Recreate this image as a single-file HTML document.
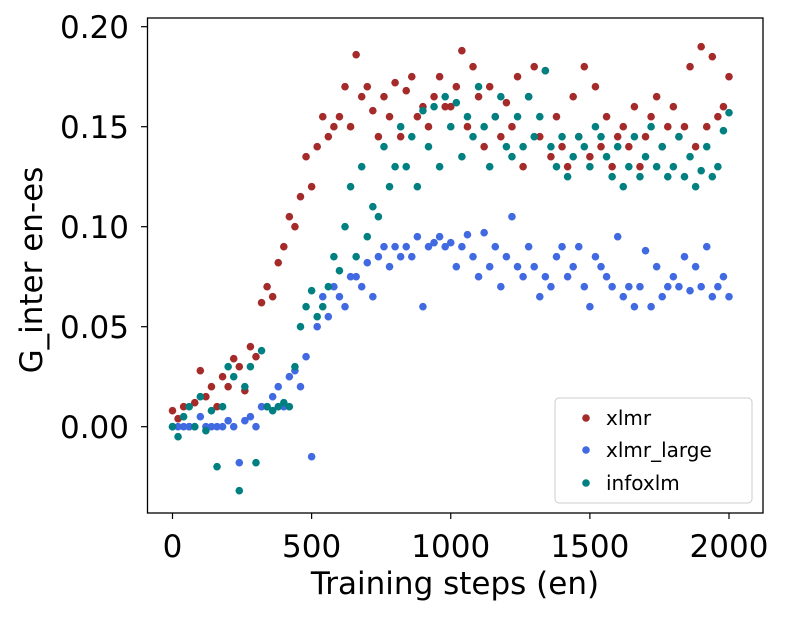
<!DOCTYPE html>
<html><head><meta charset="utf-8"><style>
body{margin:0;background:#fff}
svg{display:block;font-family:"DejaVu Sans","Liberation Sans",sans-serif}
</style></head><body>
<svg id="chart" width="788" height="618" xmlns="http://www.w3.org/2000/svg">
<rect x="0" y="0" width="788" height="618" fill="#fff"/>
<g id="points"></g>
<rect x="147.5" y="18" width="615.5" height="495" fill="none" stroke="#000" stroke-width="1.3"/>
<g id="axes"></g>
<text x="455" y="594" font-size="31" text-anchor="middle">Training steps (en)</text>
<text transform="translate(42,270) rotate(-90)" font-size="31" text-anchor="middle">G_inter en-es</text>
<g>
<rect x="555" y="398" width="197" height="105" rx="4" fill="#fff" fill-opacity="0.8" stroke="#ccc"/>
<circle cx="586" cy="418" r="3.8" fill="#a52a2a"/>
<text x="606" y="425" font-size="20">xlmr</text>
<circle cx="586" cy="450" r="3.8" fill="#4169e1"/>
<text x="606" y="457" font-size="20">xlmr_large</text>
<circle cx="586" cy="483" r="3.8" fill="#008080"/>
<text x="606" y="490" font-size="20">infoxlm</text>
</g>
</svg>
<script>
const xTicks=[0,500,1000,1500,2000];
const yTicks=[0.00,0.05,0.10,0.15,0.20];
const yTickLabels=["0.00","0.05","0.10","0.15","0.20"];
const stepStart=0, stepSize=20;
const xlmr=[0.008,0.004,0.01,0.0,0.012,0.028,0.015,0.02,0.01,0.025,0.02,
0.034,0.03,0.018,0.04,0.035,0.062,0.07,0.065,0.082,0.09,
0.105,0.1,0.115,0.135,0.12,0.14,0.155,0.145,0.15,0.155,
0.17,0.15,0.186,0.165,0.17,0.158,0.145,0.165,0.155,0.172,
0.145,0.168,0.175,0.155,0.16,0.15,0.165,0.175,0.16,0.16,
0.17,0.188,0.15,0.18,0.165,0.14,0.17,0.155,0.145,0.162,
0.15,0.175,0.13,0.165,0.18,0.145,0.178,0.135,0.155,0.14,
0.13,0.165,0.145,0.18,0.135,0.17,0.14,0.155,0.13,0.145,
0.15,0.14,0.16,0.13,0.145,0.155,0.165,0.14,0.15,0.16,
0.145,0.15,0.18,0.14,0.19,0.15,0.185,0.155,0.16,0.175];
const xlmrLarge=[0,0,0,0,0,0.005,0,0,0,0,0.003,
0,-0.018,0.003,0.005,0,0.01,0.01,0.015,0.02,0.01,
0.025,0.028,0.02,0.035,-0.015,0.05,0.065,0.055,0.07,0.065,
0.06,0.075,0.075,0.07,0.082,0.065,0.085,0.09,0.08,0.09,
0.085,0.09,0.085,0.095,0.06,0.09,0.092,0.095,0.09,0.092,
0.08,0.09,0.096,0.085,0.075,0.097,0.08,0.09,0.07,0.085,
0.105,0.08,0.075,0.09,0.08,0.065,0.075,0.07,0.085,0.09,
0.075,0.08,0.09,0.07,0.06,0.085,0.08,0.075,0.07,0.095,
0.065,0.07,0.06,0.07,0.088,0.06,0.08,0.065,0.07,0.075,
0.07,0.085,0.068,0.08,0.07,0.09,0.065,0.07,0.075,0.065];
const infoxlm=[0,-0.005,0.005,0.01,0.0,0.015,-0.002,0.008,-0.02,0.01,0.03,
0.025,-0.032,0.02,0.03,-0.018,0.038,0.01,0.008,0.01,0.012,
0.01,0.03,0.05,0.06,0.068,0.055,0.06,0.07,0.085,0.078,
0.1,0.12,0.085,0.13,0.095,0.11,0.105,0.14,0.12,0.13,
0.15,0.13,0.145,0.12,0.158,0.14,0.16,0.13,0.165,0.15,
0.162,0.135,0.155,0.145,0.17,0.15,0.13,0.155,0.165,0.14,
0.135,0.155,0.14,0.165,0.145,0.155,0.178,0.14,0.13,0.145,
0.125,0.135,0.145,0.14,0.13,0.15,0.145,0.135,0.125,0.14,
0.12,0.13,0.145,0.125,0.135,0.15,0.13,0.14,0.125,0.13,
0.145,0.125,0.135,0.12,0.128,0.14,0.125,0.13,0.148,0.157];
const NS="http://www.w3.org/2000/svg";
function xs(v){return 172.5+v*(556.5/2000);}
function ys(v){return 426.7-v*2000;}
const pts=document.getElementById('points');
function series(arr,color,name){
  arr.forEach((v,i)=>{
    const c=document.createElementNS(NS,'circle');
    c.setAttribute('cx',xs(stepStart+i*stepSize));
    c.setAttribute('cy',ys(v));
    c.setAttribute('r',3.8);
    c.setAttribute('fill',color);
    
    
    pts.appendChild(c);
  });
}
series(xlmr,'#a52a2a','xlmr');
series(xlmrLarge,'#4169e1','xlmr-large');
series(infoxlm,'#008080','infoxlm');
const ax=document.getElementById('axes');
xTicks.forEach(t=>{
  const l=document.createElementNS(NS,'line');
  l.setAttribute('x1',xs(t));l.setAttribute('x2',xs(t));
  l.setAttribute('y1',513);l.setAttribute('y2',519);
  l.setAttribute('stroke','#000');l.setAttribute('stroke-width','1.2');
  
  
  ax.appendChild(l);
  const tx=document.createElementNS(NS,'text');
  tx.setAttribute('x',xs(t));tx.setAttribute('y',557);
  tx.setAttribute('font-size','31');tx.setAttribute('text-anchor','middle');
  tx.textContent=String(t);
  
  
  ax.appendChild(tx);
});
yTicks.forEach((t,i)=>{
  const l=document.createElementNS(NS,'line');
  l.setAttribute('x1',141);l.setAttribute('x2',147.5);
  l.setAttribute('y1',ys(t));l.setAttribute('y2',ys(t));
  l.setAttribute('stroke','#000');l.setAttribute('stroke-width','1.2');
  
  
  ax.appendChild(l);
  const tx=document.createElementNS(NS,'text');
  tx.setAttribute('x',129);tx.setAttribute('y',ys(t)+11.5);
  tx.setAttribute('font-size','31');tx.setAttribute('text-anchor','end');
  tx.textContent=yTickLabels[i];
  
  
  ax.appendChild(tx);
});
</script>
</body></html>
